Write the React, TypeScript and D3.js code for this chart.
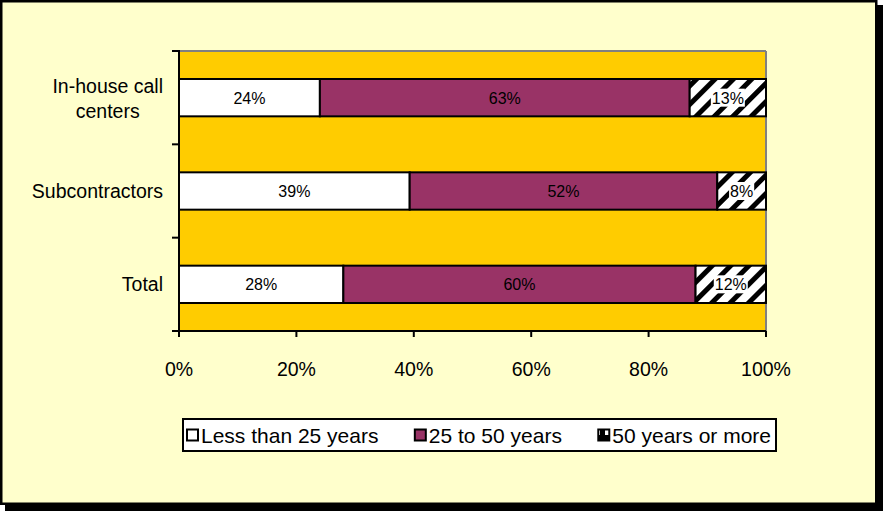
import React from "react";
import * as d3 from "d3";

const categories = ["In-house call centers", "Subcontractors", "Total"];
const categoryLines = [["In-house call", "centers"], ["Subcontractors"], ["Total"]];
const seriesNames = ["Less than 25 years", "25 to 50 years", "50 years or more"];
const lessThan25 = [24, 39.3, 28];
const from25to50 = [63, 52.4, 60];
const over50 = [13, 8.3, 12];
const labelsLess = ["24%", "39%", "28%"];
const labelsMid = ["63%", "52%", "60%"];
const labelsOver = ["13%", "8%", "12%"];
const xTicks = [0, 20, 40, 60, 80, 100];

const W = 883, H = 511;
const plot = { left: 179, right: 766, top: 51, bottom: 331 };
const FONT = "Arial, 'Liberation Sans', sans-serif";

// approximate Arial advance widths (em) for text layout
const CW: Record<string, number> = {
  " ": 0.278, "0": 0.556, "1": 0.556, "2": 0.556, "3": 0.556, "4": 0.556, "5": 0.556, "6": 0.556, "8": 0.556, "9": 0.556,
  "%": 0.889, "-": 0.333, I: 0.278, L: 0.556, S: 0.667, T: 0.611,
  a: 0.556, b: 0.556, c: 0.5, e: 0.556, h: 0.556, l: 0.222, m: 0.833, n: 0.556, o: 0.556, r: 0.333, s: 0.5, t: 0.278, u: 0.556, y: 0.5,
};
const textW = (s: string, fs: number) => s.split("").reduce((a, c) => a + (CW[c] ?? 0.556), 0) * fs;

export default function App() {
  const x = d3.scaleLinear().domain([0, 100]).range([plot.left, plot.right]);
  const band = d3.scaleBand<string>().domain(categories).range([plot.top, plot.bottom]);
  const series = [lessThan25, from25to50, over50];
  const labels = [labelsLess, labelsMid, labelsOver];
  const fills = ["#FFFFFF", "#993366", "url(#hatch)"];

  const stack = d3.stack<number>().keys(["0", "1", "2"]).value((i, k) => series[+k][i]);
  const stacked = stack(categories.map((_, i) => i));
  const barH = band.bandwidth() / 2.5;

  const legFs = 21;
  const legBox = { x: 183, y: 419, w: 593, h: 32 };
  const legGap = (legBox.w - 8 - 3 * 15 - seriesNames.reduce((a, n) => a + textW(n, legFs), 0)) / 2;
  let cursor = legBox.x + 4;
  const legItems = seriesNames.map(n => {
    const it = { n, x: cursor };
    cursor += 15 + textW(n, legFs) + legGap;
    return it;
  });

  return (
    <svg width={W} height={H} style={{ position: "fixed", left: 0, top: 0 }} fontFamily={FONT}>
      <defs>
        <pattern id="hatch" width="13" height="13" patternUnits="userSpaceOnUse" patternTransform="rotate(45)">
          <rect width="13" height="13" fill="#fff" />
          <rect width="5" height="13" fill="#000" />
        </pattern>
        <pattern id="hatchLeg" width="11" height="11" patternUnits="userSpaceOnUse">
          <rect width="11" height="11" fill="#fff" />
          <path d="M0,11 L11,11 L11,0 L6,0 L6,6 L0,6 Z" fill="#000" />
        </pattern>
      </defs>
      <rect x={5} y={5} width={W - 5} height={H - 5} fill="#000" />
      <rect x={1.25} y={1.25} width={875} height={502.5} fill="#FFFFCC" stroke="#000" strokeWidth={2.5} />
      {/* plot area */}
      <rect x={plot.left} y={plot.top} width={plot.right - plot.left} height={plot.bottom - plot.top} fill="#FFCC00" />
      <line x1={plot.left} x2={plot.right} y1={plot.top} y2={plot.top} stroke="#808080" strokeWidth={2} />
      <line x1={plot.right} x2={plot.right} y1={plot.top} y2={plot.bottom} stroke="#808080" strokeWidth={2} />
      {/* bars */}
      {stacked.map((s, si) =>
        s.map((d, ci) => {
          const cy = (band(categories[ci]) as number) + band.bandwidth() / 2;
          const x0 = x(d[0]), x1 = x(d[1]);
          return (
            <rect key={si + "-" + ci} x={x0} y={cy - barH / 2} width={x1 - x0} height={barH} fill={fills[si]} stroke="#000" strokeWidth={2} />
          );
        })
      )}
      {stacked.map((s, si) =>
        s.map((d, ci) => {
          const cy = (band(categories[ci]) as number) + band.bandwidth() / 2;
          const x0 = x(d[0]), x1 = x(d[1]);
          const lbl = labels[si][ci];
          const tw = textW(lbl, 16);
          return (
            <g key={"l" + si + "-" + ci}>
              {si === 2 && <rect x={(x0 + x1) / 2 - tw / 2 - 1} y={cy - 9} width={tw + 2} height={18} fill="#fff" />}
              <text x={(x0 + x1) / 2} y={cy + 6} textAnchor="middle" fontSize={16} fill="#000">{lbl}</text>
            </g>
          );
        })
      )}
      {/* y axis */}
      <line x1={plot.left} x2={plot.left} y1={plot.top - 1} y2={plot.bottom + 1} stroke="#000" strokeWidth={2} />
      {[0, 1, 2, 3].map(i => {
        const yy = plot.top + i * band.step();
        return <line key={i} x1={plot.left - 7} x2={plot.left} y1={yy} y2={yy} stroke="#000" strokeWidth={2} />;
      })}
      {categoryLines.map((lines, i) => {
        const cy = (band(categories[i]) as number) + band.bandwidth() / 2;
        if (lines.length === 1) {
          return <text key={i} x={163} y={cy + 7} textAnchor="end" fontSize={19.5} fill="#000">{lines[0]}</text>;
        }
        const maxW = Math.max(...lines.map(l => textW(l, 19.5)));
        return (
          <text key={i} textAnchor="middle" fontSize={19.5} fill="#000">
            {lines.map((l, j) => (
              <tspan key={j} x={163 - maxW / 2} y={cy - 5 + j * 25}>{l}</tspan>
            ))}
          </text>
        );
      })}
      {/* x axis */}
      <line x1={plot.left} x2={plot.right} y1={plot.bottom} y2={plot.bottom} stroke="#000" strokeWidth={2} />
      {xTicks.map(t => (
        <g key={t}>
          <line x1={x(t)} x2={x(t)} y1={plot.bottom} y2={plot.bottom + 6} stroke="#000" strokeWidth={2} />
          <text x={x(t)} y={376} textAnchor="middle" fontSize={19.5} fill="#000">{t}%</text>
        </g>
      ))}
      {/* legend */}
      <rect x={legBox.x} y={legBox.y} width={legBox.w} height={legBox.h} fill="#fff" stroke="#000" strokeWidth={2} />
      {legItems.map((it, i) => {
        const legFill = ["#fff", "#993366", "url(#hatchLeg)"][i];
        return (
          <g key={it.n}>
            <rect x={it.x} y={429.5} width={11} height={11} fill={legFill} stroke="#000" strokeWidth={2} />
            <text x={it.x + 14} y={442.5} fontSize={legFs} fill="#000">{it.n}</text>
          </g>
        );
      })}
    </svg>
  );
}
